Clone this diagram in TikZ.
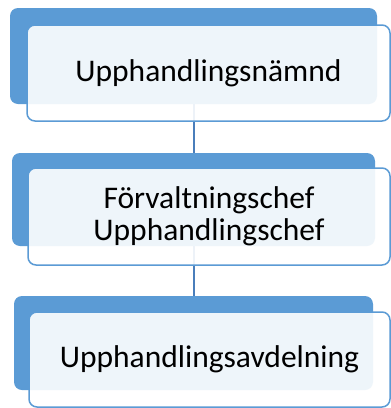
\documentclass[tikz,border=0pt]{standalone}
\usepackage{fontspec}
\setmainfont{Carlito}
\definecolor{accent}{HTML}{5B9BD5}
\definecolor{linkcol}{HTML}{4A7EBB}
\tikzset{
  backbox/.style={rectangle, rounded corners=8pt, fill=accent, draw=none, inner sep=0pt},
  frontbox/.style={rectangle, rounded corners=8pt, fill=white, fill opacity=0.9, text opacity=1,
    draw=accent, line width=1.5pt, inner sep=0pt, align=center, font=\fontsize{31.5}{32}\selectfont},
  link/.style={draw=linkcol, line width=2pt}
}
\begin{document}
\begin{tikzpicture}[x=1pt,y=-1pt]
\useasboundingbox (0,0) rectangle (391,408);
\fill[white] (0,0) rectangle (391,408);
% back boxes
\node[backbox, minimum width=367pt, minimum height=96pt] (b1) at (193.5,56) {};
\node[backbox, minimum width=363pt, minimum height=93pt] (b2) at (193.5,199.5) {};
\node[backbox, minimum width=359pt, minimum height=94pt] (b3) at (193.5,343) {};
% connectors
\draw[link] (b1.south) -- (b2.north);
\draw[link] (b2.south) -- (b3.north);
% front boxes
\node[frontbox, minimum width=363pt, minimum height=96pt] (f1) at (208.5,73) {Upphandlingsnämnd};
\node[frontbox, minimum width=362pt, minimum height=97pt] (f2) at (209,216.5) {Förvaltningschef\\Upphandlingschef};
\node[frontbox, minimum width=361pt, minimum height=95pt] (f3) at (209.5,359.5) {Upphandlingsavdelning};
\end{tikzpicture}
\end{document}
